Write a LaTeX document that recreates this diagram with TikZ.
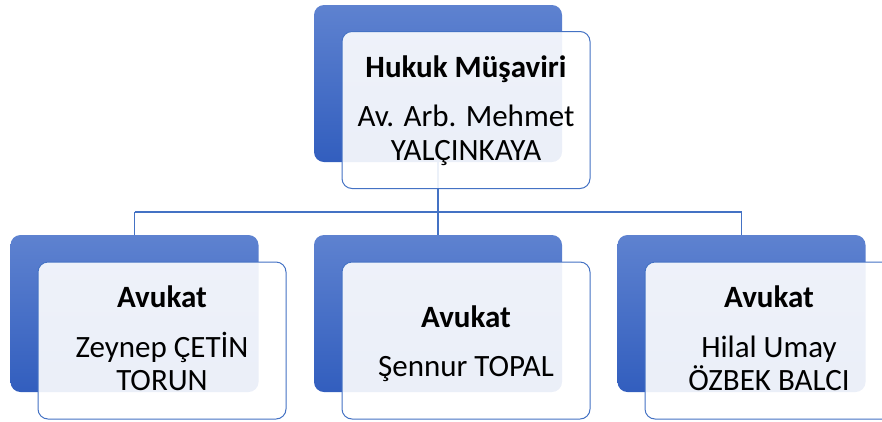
\documentclass[tikz,border=0pt]{standalone}
\usepackage{fontspec}
\setmainfont{Carlito}
\definecolor{accent}{RGB}{68,114,196}
\definecolor{bluetop}{RGB}{94,130,208}
\definecolor{bluebot}{RGB}{50,94,190}
\tikzset{
  bluebox/.style={rounded corners=10pt, top color=bluetop, bottom color=bluebot, draw=none,
    minimum width=248pt, minimum height=157pt, inner sep=0pt},
  whitebox/.style={rounded corners=10pt, fill=white, fill opacity=0.9, draw=accent, line width=1pt,
    minimum width=248pt, minimum height=157pt, inner sep=0pt},
  conn/.style={draw=accent, line width=1.3pt},
  ttl/.style={anchor=base, font=\fontsize{31}{37}\selectfont\bfseries, inner sep=0pt},
  txt/.style={anchor=base, font=\fontsize{31}{37}\selectfont, inner sep=0pt},
}
\begin{document}
\begin{tikzpicture}[x=1pt,y=-1pt]
\useasboundingbox (0,0) rectangle (882,421);
\begin{scope}
\clip (0,0) rectangle (882,421);
% blue boxes
\node[bluebox] (b0) at (438,83.5) {};
\node[bluebox] (b1) at (134.5,313.5) {};
\node[bluebox] (b2) at (438,313.5) {};
\node[bluebox] (b3) at (741.5,313.5) {};
% connectors
\coordinate (h0) at (438,212);
\coordinate (h1) at (134.5,212);
\coordinate (h3) at (741.5,212);
\draw[conn] (b0.south) -- (h0);
\draw[conn] (h1) -- (h3);
\draw[conn] (h1) -- (b1.north);
\draw[conn] (h0) -- (b2.north);
\draw[conn] (h3) -- (b3.north);
% white boxes
\node[whitebox] (w0) at (466,110) {};
\node[whitebox] (w1) at (162,340.5) {};
\node[whitebox] (w2) at (466,340.5) {};
\node[whitebox] (w3) at (769,340.5) {};
% texts
\node[ttl] (t0a) at (466,77) {Hukuk Müşaviri};
\node[txt] (t0b) at (466,126) {Av. Arb. Mehmet};
\node[txt] (t0c) at (466,160) {YALÇINKAYA};
\node[ttl] (t1a) at (162,307) {Avukat};
\node[txt] (t1b) at (162,357) {Zeynep ÇETİN};
\node[txt] (t1c) at (162,390) {TORUN};
\node[ttl] (t2a) at (466,327) {Avukat};
\node[txt] (t2b) at (466,376) {Şennur TOPAL};
\node[ttl] (t3a) at (769,307) {Avukat};
\node[txt] (t3b) at (769,357) {Hilal Umay};
\node[txt] (t3c) at (769,390) {ÖZBEK BALCI};
\end{scope}
\end{tikzpicture}
\end{document}
